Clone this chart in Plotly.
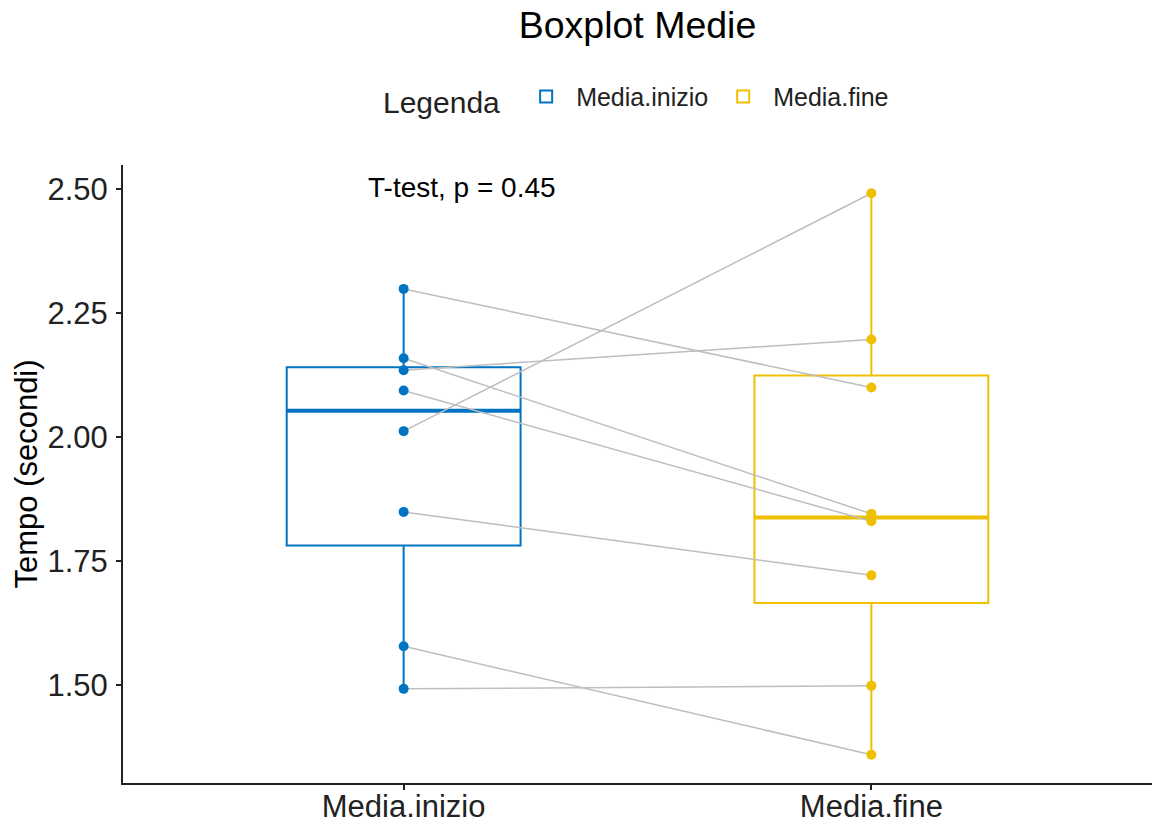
import numpy as np
import plotly.graph_objects as go

# Paired measurements (seconds) per subject
categories = ["Media.inizio", "Media.fine"]
media_inizio = [2.299, 2.159, 2.135, 2.094, 2.012, 1.849, 1.578, 1.492]
media_fine = [2.100, 1.845, 2.197, 1.830, 2.492, 1.721, 1.359, 1.498]
colors = ["#0073C2", "#EFC000"]
p_label = "T-test, p = 0.45"
y_ticks = [1.50, 1.75, 2.00, 2.25, 2.50]

series = [media_inizio, media_fine]
xpos = [1, 2]
box_width = 0.5

fig = go.Figure()

# Boxes from type-7 quartiles; whiskers span the full range (no outliers)
medians = []
for name, vals, x, col in zip(categories, series, xpos, colors):
    v = np.array(vals)
    q1, med, q3 = np.percentile(v, [25, 50, 75])
    medians.append(med)
    fig.add_trace(go.Box(
        x=[x], q1=[q1], median=[med], q3=[q3],
        lowerfence=[v.min()], upperfence=[v.max()],
        width=box_width, whiskerwidth=0,
        line=dict(color=col, width=2),
        fillcolor="rgba(255,255,255,0)",
        name=name, showlegend=True, boxpoints=False,
    ))

# Thicker median bars
for med, x, col in zip(medians, xpos, colors):
    fig.add_trace(go.Scatter(
        x=[x - box_width / 2, x + box_width / 2], y=[med, med], mode="lines",
        line=dict(color=col, width=4), showlegend=False, hoverinfo="skip",
    ))

# Grey lines joining each subject's two values
for a, b in zip(media_inizio, media_fine):
    fig.add_trace(go.Scatter(
        x=[1, 2], y=[a, b], mode="lines",
        line=dict(color="#BEBEBE", width=1.5),
        showlegend=False, hoverinfo="skip",
    ))

# Individual points
for name, vals, x, col in zip(categories, series, xpos, colors):
    fig.add_trace(go.Scatter(
        x=[x] * len(vals), y=vals, mode="markers",
        marker=dict(color=col, size=10),
        showlegend=False, name=name,
    ))

fig.add_annotation(
    x=1.124, y=2.503, xref="x", yref="y", text=p_label,
    showarrow=False, font=dict(size=28, color="black"),
    xanchor="center", yanchor="middle",
)

fig.update_layout(
    width=1152, height=825,
    margin=dict(l=123, r=0, t=165, b=42),
    paper_bgcolor="white", plot_bgcolor="white",
    font=dict(family="Liberation Sans, Arial, sans-serif", color="black"),
    title=dict(text="Boxplot Medie", x=0.5, xref="paper", xanchor="center",
               y=1 - 25 / 825, yref="container", yanchor="middle",
               font=dict(size=37.5, color="black")),
    legend=dict(
        orientation="h", x=0.5, xanchor="center", y=1.108, yanchor="middle",
        title=dict(text="Legenda ", side="left", font=dict(size=30)),
        font=dict(size=25, color="#222"),
        itemwidth=50,
    ),
    xaxis=dict(
        range=[0.4, 2.6], tickvals=xpos, ticktext=categories,
        showgrid=False, zeroline=False, automargin=False,
        showline=True, linecolor="#222", linewidth=2,
        ticks="outside", ticklen=5, tickwidth=2, tickcolor="#222",
        tickfont=dict(size=31, color="#222"),
        ticklabelstandoff=-10,
    ),
    yaxis=dict(
        range=[1.302, 2.549], tickvals=y_ticks, tickformat=".2f",
        showgrid=False, zeroline=False, automargin=False,
        showline=True, linecolor="#222", linewidth=2,
        ticks="outside", ticklen=5, tickwidth=2, tickcolor="#222",
        tickfont=dict(size=31, color="#222"),
        ticklabelstandoff=2,
        title=dict(text="Tempo (secondi)", font=dict(size=31, color="black"), standoff=1),
    ),
)

fig.write_html("out.html")
